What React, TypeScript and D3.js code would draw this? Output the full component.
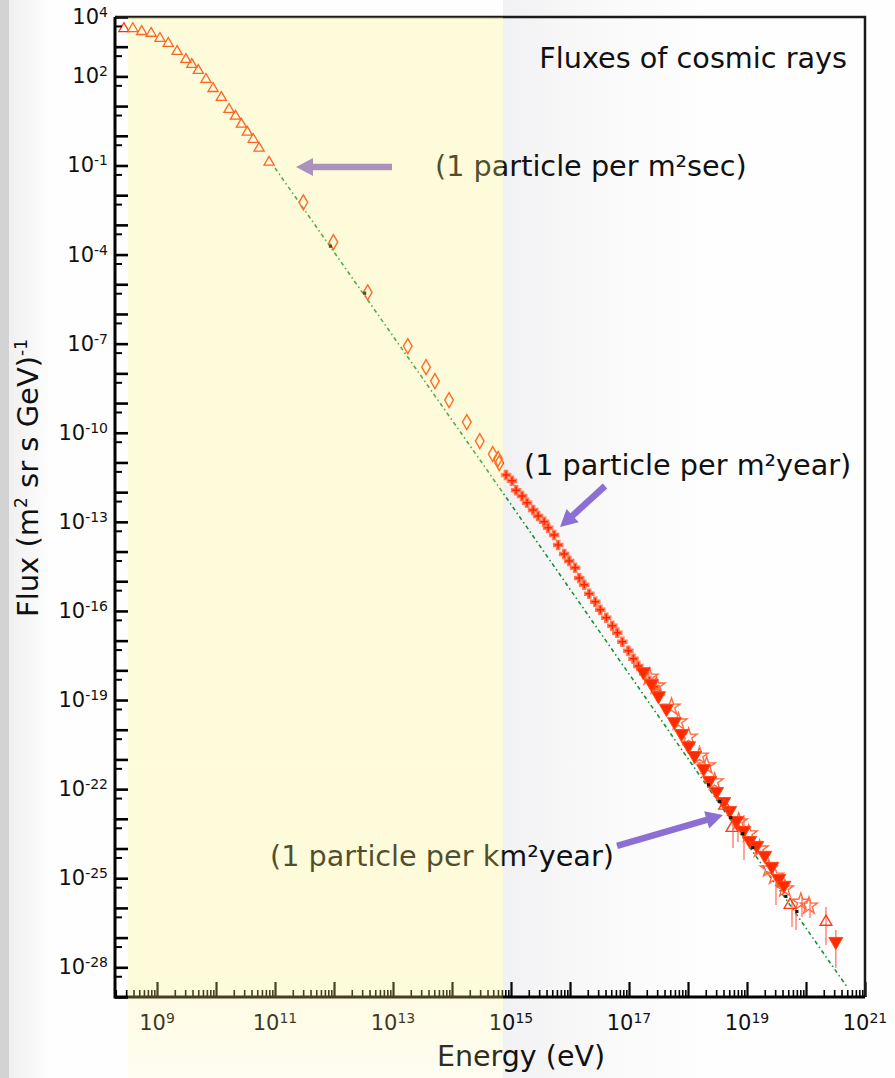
import { useEffect, useRef } from "react";
import * as d3 from "d3";

const W = 895;
const H = 1078;

// energy in eV, flux in (m^2 sr s GeV)^-1
const lowTriangles: [number, number][] = [
  [2.75e8, 4.07e3], [3.89e8, 4.07e3], [5.5e8, 3.24e3], [7.94e8, 2.82e3],
  [1.12e9, 1.91e3], [1.55e9, 1.29e3], [2.19e9, 6.92e2], [3.09e9, 3.72e2],
  [3.89e9, 2.51e2], [5.01e9, 1.58e2], [6.76e9, 79.4], [8.91e9, 38.9],
  [1.23e10, 19.5], [1.66e10, 7.76], [2.14e10, 4.57], [2.69e10, 2.45],
  [3.39e10, 1.32], [4.27e10, 0.759], [5.37e10, 0.38], [7.94e10, 0.129],
];

const diamonds: [number, number][] = [
  [3.02e11, 5.75e-3], [9.77e11, 2.63e-4], [3.72e12, 5.37e-6], [1.78e13, 8.32e-8],
  [3.63e13, 1.62e-8], [5.13e13, 5.5e-9], [8.91e13, 1.26e-9], [1.78e14, 2.29e-10],
  [2.95e14, 5.25e-11], [4.9e14, 1.91e-11], [6.03e14, 1.32e-11], [6.31e14, 9.55e-12],
];

const stars: [number, number][] = [
  [8.22e14, 3.8e-12], [1.04e15, 2.4e-12], [1.22e15, 1.17e-12], [1.54e15, 7.41e-13],
  [1.87e15, 4.37e-13], [2.37e15, 2.51e-13], [2.88e15, 1.58e-13], [3.64e15, 1.0e-13],
  [4.26e15, 6.31e-14], [5.38e15, 3.63e-14], [6.3e15, 1.66e-14], [7.96e15, 8.32e-15],
  [9.68e15, 4.79e-15], [1.22e16, 2.82e-15], [1.43e16, 1.29e-15], [1.74e16, 7.59e-16],
  [2.12e16, 3.8e-16], [2.68e16, 2.04e-16], [3.26e16, 1.1e-16], [4.12e16, 5.89e-17],
  [5.21e16, 3.16e-17], [6.34e16, 1.86e-17], [7.71e16, 9.12e-18], [9.75e16, 4.57e-18],
  [1.19e17, 2.45e-18], [1.44e17, 1.41e-18], [1.82e17, 7.76e-19], [2.22e17, 4.47e-19],
  [2.7e17, 2.82e-19], [3.28e17, 1.62e-19],
];

const downTriangles: [number, number][] = [
  [1.75e17, 8.91e-19], [2.4e17, 3.55e-19], [3.16e17, 1.38e-19], [4.32e17, 5.13e-20],
  [5.9e17, 1.86e-20], [7.76e17, 7.41e-21], [1.02e18, 2.88e-21], [1.29e18, 1.35e-21],
  [1.84e18, 4.9e-22], [2.32e18, 1.95e-22], [3.05e18, 8.32e-23], [4.02e18, 3.8e-23],
  [5.08e18, 1.91e-23], [6.68e18, 8.71e-24], [8.79e18, 4.07e-24], [1.11e19, 1.86e-24],
  [1.46e19, 1.26e-24], [2.0e19, 5.89e-25], [2.63e19, 2.51e-25], [3.46e19, 9.77e-26],
  [4.21e19, 5.75e-26], [3.2e20, 7.41e-28],
];

const openStars: [number, number][] = [
  [2.22e17, 6.03e-19], [2.92e17, 3.02e-19], [5.25e17, 5.89e-20], [6.9e17, 1.86e-20],
  [1.02e18, 5.75e-21], [1.57e18, 1.32e-21], [2.07e18, 6.17e-22], [2.82e18, 1.78e-22],
  [7.23e18, 7.94e-24], [1.07e19, 3.16e-24], [1.64e19, 9.77e-25], [2.34e19, 2.09e-25],
  [2.96e19, 1.2e-25], [4.38e19, 4.47e-26], [8.18e19, 1.58e-26], [1.12e20, 1.17e-26],
];

const highTriangles: [number, number][] = [
  [4.18e18, 2.75e-23], [5.57e18, 4.9e-24], [5.36e19, 1.26e-26], [2.18e20, 3.39e-27],
];

const blackDots: [number, number][] = [
  [8.71e11, 1.91e-4], [3.31e12, 5.01e-6], [2.23e18, 1.41e-22], [3.44e18, 3.8e-23],
  [5.28e18, 1.1e-23], [8.45e18, 3.16e-24], [1.25e19, 1.07e-24], [4.55e19, 2.45e-26],
  [7.0e19, 7.59e-27],
];

// [energy, flux low, flux high]
const errorBars: [number, number, number][] = [
  [5.79e18, 1.05e-24, 7.24e-24], [7.03e18, 1.66e-24, 1.15e-23], [8.89e18, 4.07e-25, 1.35e-23],
  [3.1e19, 1.26e-26, 8.71e-26], [5.79e19, 2.29e-27, 1.86e-26], [6.78e19, 1.82e-27, 1.07e-26],
  [8.55e19, 4.9e-27, 2.34e-26], [1.17e20, 4.57e-27, 1.86e-26], [2.18e20, 5.62e-28, 1.07e-26],
  [3.2e20, 9.55e-29, 1.82e-27],
];

const fitLine: [number, number][] = [
  [1.0e11, 8.22e-2], [3.92e14, 5.57e-12], [4.95e20, 2.19e-29],
];

const highlightBand: [number, number] = [3.22e8, 7.31e14];

const xLabelExps = [9, 11, 13, 15, 17, 19, 21];
const yLabelExps = [4, 2, -1, -4, -7, -10, -13, -16, -19, -22, -25, -28];

const notes = [
  { text: "Fluxes of cosmic rays", at: [4.95e20, 1.92e2], anchor: "end" },
  { text: "(1 particle per m\u00b2sec)", at: [5.15e13, 4.43e-2], anchor: "start" },
  { text: "(1 particle per m\u00b2year)", at: [1.66e15, 3.78e-12], anchor: "start" },
  { text: "(1 particle per km\u00b2year)", at: [8.22e10, 2.58e-25], anchor: "start" },
];

// [tail, tip]
const arrows: [number, number][][] = [
  [[9.62e12, 8.89e-2], [2.27e11, 8.89e-2]],
  [[3.92e16, 1.61e-12], [6.78e15, 6.71e-14]],
  [[6.27e16, 1.22e-24], [3.92e18, 1.34e-23]],
];

const FONT = "DejaVu Sans, Verdana, sans-serif";

const arrowPath = (x0: number, y0: number, x1: number, y1: number) => {
  const shaft = 6.5, headLen = 17, headW = 18;
  const len = Math.hypot(x1 - x0, y1 - y0);
  const ux = (x1 - x0) / len, uy = (y1 - y0) / len;
  const nx = -uy, ny = ux;
  const bx = x1 - ux * headLen, by = y1 - uy * headLen;
  const p = (a: number, b: number) => `${a},${b}`;
  return (
    "M" + [
      p(x0 + nx * shaft / 2, y0 + ny * shaft / 2),
      p(bx + nx * shaft / 2, by + ny * shaft / 2),
      p(bx + nx * headW / 2, by + ny * headW / 2),
      p(x1, y1),
      p(bx - nx * headW / 2, by - ny * headW / 2),
      p(bx - nx * shaft / 2, by - ny * shaft / 2),
      p(x0 - nx * shaft / 2, y0 - ny * shaft / 2),
    ].join("L") + "Z"
  );
};

const App = () => {
  const svgRef = useRef<SVGSVGElement>(null);

  useEffect(() => {
    const svg = d3.select(svgRef.current);
    svg.selectAll("*").remove();

    const left = 115, right = 865, top = 17, bottom = 997;
    const x = d3.scaleLog().domain([1.94e8, 1e21]).range([left, right]);
    const y = d3.scaleLog().domain([1e-29, 1e4]).range([bottom, top]);

    const defs = svg.append("defs");
    const shade = defs.append("linearGradient").attr("id", "shade");
    shade.append("stop").attr("offset", 0).attr("stop-color", "#f1f1f3");
    shade.append("stop").attr("offset", 0.3).attr("stop-color", "#f7f7f8");
    shade.append("stop").attr("offset", 1).attr("stop-color", "#fefefe");
    const edge = defs.append("linearGradient").attr("id", "edge");
    edge.append("stop").attr("offset", 0).attr("stop-color", "#f0f0f0");
    edge.append("stop").attr("offset", 1).attr("stop-color", "#fdfdfd");
    const band = defs
      .append("linearGradient")
      .attr("id", "band")
      .attr("x1", 0).attr("x2", 0).attr("y1", 0).attr("y2", 1);
    const bandTop = (bottom - top) / (H - top);
    [
      [0, 0.27],
      [bandTop, 0.27],
      [bandTop + 0.004, 0.2],
      [1, 0.1],
    ].forEach(([o, a]) =>
      band.append("stop").attr("offset", o).attr("stop-color", "rgb(255,244,125)").attr("stop-opacity", a)
    );

    // background
    svg.append("rect").attr("width", W).attr("height", H).attr("fill", "#fefefe");
    svg.append("rect").attr("x", 9).attr("width", 40).attr("height", H).attr("fill", "url(#edge)");
    svg.append("rect").attr("width", 9).attr("height", H).attr("fill", "#d3d3d3");
    svg
      .append("rect")
      .attr("x", x(highlightBand[1]))
      .attr("width", 200)
      .attr("height", H)
      .attr("fill", "url(#shade)");

    // power-law line
    svg
      .append("path")
      .datum(fitLine)
      .attr("fill", "none")
      .attr("stroke", "#16913a")
      .attr("stroke-width", 1.6)
      .attr("stroke-dasharray", "4 3 1.5 3")
      .attr("d", d3.line().x((d) => x(d[0])).y((d) => y(d[1])));

    // error bars
    svg
      .append("g")
      .selectAll("line")
      .data(errorBars)
      .join("line")
      .attr("x1", (d) => x(d[0]))
      .attr("x2", (d) => x(d[0]))
      .attr("y1", (d) => y(d[1]))
      .attr("y2", (d) => y(d[2]))
      .attr("stroke", "#ff6a55")
      .attr("stroke-opacity", 0.75)
      .attr("stroke-width", 1.6);

    const plotSymbols = (
      data: [number, number][],
      type: d3.SymbolType,
      size: number,
      fill: string,
      stroke: string,
      sw: number,
      rotate = 0
    ) =>
      svg
        .append("g")
        .selectAll("path")
        .data(data)
        .join("path")
        .attr("transform", (d) => `translate(${x(d[0])},${y(d[1])}) rotate(${rotate})`)
        .attr("d", d3.symbol().type(type).size(size)())
        .attr("fill", fill)
        .attr("stroke", stroke)
        .attr("stroke-width", sw);

    plotSymbols(lowTriangles, d3.symbolTriangle, 45, "none", "#ff2d05", 1.3);
    plotSymbols(diamonds, d3.symbolDiamond, 65, "none", "#ff3a05", 1.4);
    plotSymbols(stars, d3.symbolCross, 45, "#ff2200", "#ff7a55", 1.5);
    plotSymbols(openStars, d3.symbolStar, 90, "none", "#ff6a40", 1.4);
    plotSymbols(downTriangles, d3.symbolTriangle, 85, "#ff2a00", "#ff4a20", 1, 180);
    plotSymbols(highTriangles, d3.symbolTriangle, 60, "none", "#ff3a15", 1.4);
    plotSymbols(blackDots, d3.symbolSquare, 10, "#111", "none", 0);

    // axes
    const decades = d3.range(-29, 5).map((e) => Math.pow(10, e));
    const yMinor = d3.range(-29, 5).map((e) => 5 * Math.pow(10, e - 1)).filter((v) => v > 1e-29);
    const xMajor = d3.range(9, 22).map((e) => Math.pow(10, e));
    const xMinor: number[] = [];
    d3.range(8, 21).forEach((e) =>
      d3.range(2, 10).forEach((k) => {
        const v = k * Math.pow(10, e);
        if (v > 1.94e8 && v < 1e21) xMinor.push(v);
      })
    );

    const styleAxis = (g: any, w: number) => {
      g.select(".domain").remove();
      g.selectAll(".tick line").attr("stroke", "#000").attr("stroke-width", w);
      g.selectAll(".tick text").remove();
    };

    svg
      .append("g")
      .attr("transform", `translate(0,${bottom})`)
      .call(d3.axisBottom(x).tickValues(xMinor).tickSize(-7).tickSizeOuter(0))
      .call((g: any) => styleAxis(g, 1.6));
    svg
      .append("g")
      .attr("transform", `translate(0,${bottom})`)
      .call(d3.axisBottom(x).tickValues(xMajor).tickSize(-15).tickSizeOuter(0))
      .call((g: any) => styleAxis(g, 2.2));
    svg
      .append("g")
      .attr("transform", `translate(${left},0)`)
      .call(d3.axisLeft(y).tickValues(yMinor).tickSize(-7).tickSizeOuter(0))
      .call((g: any) => styleAxis(g, 2));
    svg
      .append("g")
      .attr("transform", `translate(${left},0)`)
      .call(d3.axisLeft(y).tickValues(decades).tickSize(-13).tickSizeOuter(0))
      .call((g: any) => styleAxis(g, 2.6));

    // frame
    svg
      .append("path")
      .attr("d", `M${left},${top}H${right}V${bottom}`)
      .attr("fill", "none")
      .attr("stroke", "#1a1a1a")
      .attr("stroke-width", 2.5);
    svg
      .append("path")
      .attr("d", `M${left},${top}V${bottom}H${right}`)
      .attr("fill", "none")
      .attr("stroke", "#000")
      .attr("stroke-width", 3);

    const powerLabel = (
      g: any,
      px: number,
      py: number,
      exp: number,
      anchor: string
    ) => {
      const t = g
        .append("text")
        .attr("x", px)
        .attr("y", py)
        .attr("text-anchor", anchor)
        .attr("font-family", FONT)
        .attr("font-size", 21)
        .attr("fill", "#111");
      t.append("tspan").text("10");
      t.append("tspan").attr("dy", -7).attr("font-size", 14).text(String(exp));
    };

    const labels = svg.append("g");
    xLabelExps.forEach((e) => powerLabel(labels, x(Math.pow(10, e)), 1030, e, "middle"));
    yLabelExps.forEach((e) => powerLabel(labels, 108, y(Math.pow(10, e)) + 7, e, "end"));

    svg
      .append("text")
      .attr("x", 521)
      .attr("y", 1066)
      .attr("text-anchor", "middle")
      .attr("font-family", FONT)
      .attr("font-size", 28.5)
      .attr("fill", "#111")
      .text("Energy (eV)");

    const yl = svg
      .append("text")
      .attr("transform", "translate(38,478) rotate(-90)")
      .attr("text-anchor", "middle")
      .attr("font-family", FONT)
      .attr("font-size", 29)
      .attr("fill", "#111");
    yl.append("tspan").text("Flux (m");
    yl.append("tspan").attr("dy", -11).attr("font-size", 17).text("2");
    yl.append("tspan").attr("dy", 11).text(" sr s GeV)");
    yl.append("tspan").attr("dy", -11).attr("font-size", 17).text("-1");

    // annotations
    svg
      .append("g")
      .selectAll("text")
      .data(notes)
      .join("text")
      .attr("x", (d) => x(d.at[0]))
      .attr("y", (d) => y(d.at[1]))
      .attr("text-anchor", (d) => d.anchor)
      .attr("font-family", FONT)
      .attr("font-size", 28.7)
      .attr("fill", "#111")
      .text((d) => d.text);

    svg
      .append("g")
      .selectAll("path")
      .data(arrows)
      .join("path")
      .attr("d", (d) => arrowPath(x(d[0][0]), y(d[0][1]), x(d[1][0]), y(d[1][1])))
      .attr("fill", "#8b6fd3");

    // highlighted energy range
    svg
      .append("rect")
      .attr("x", x(highlightBand[0]))
      .attr("y", top)
      .attr("width", x(highlightBand[1]) - x(highlightBand[0]))
      .attr("height", H - top)
      .attr("fill", "url(#band)");
  }, []);

  return (
    <svg
      ref={svgRef}
      width={W}
      height={H}
      style={{ position: "absolute", left: 0, top: 0, display: "block" }}
    ></svg>
  );
};

export default App;
